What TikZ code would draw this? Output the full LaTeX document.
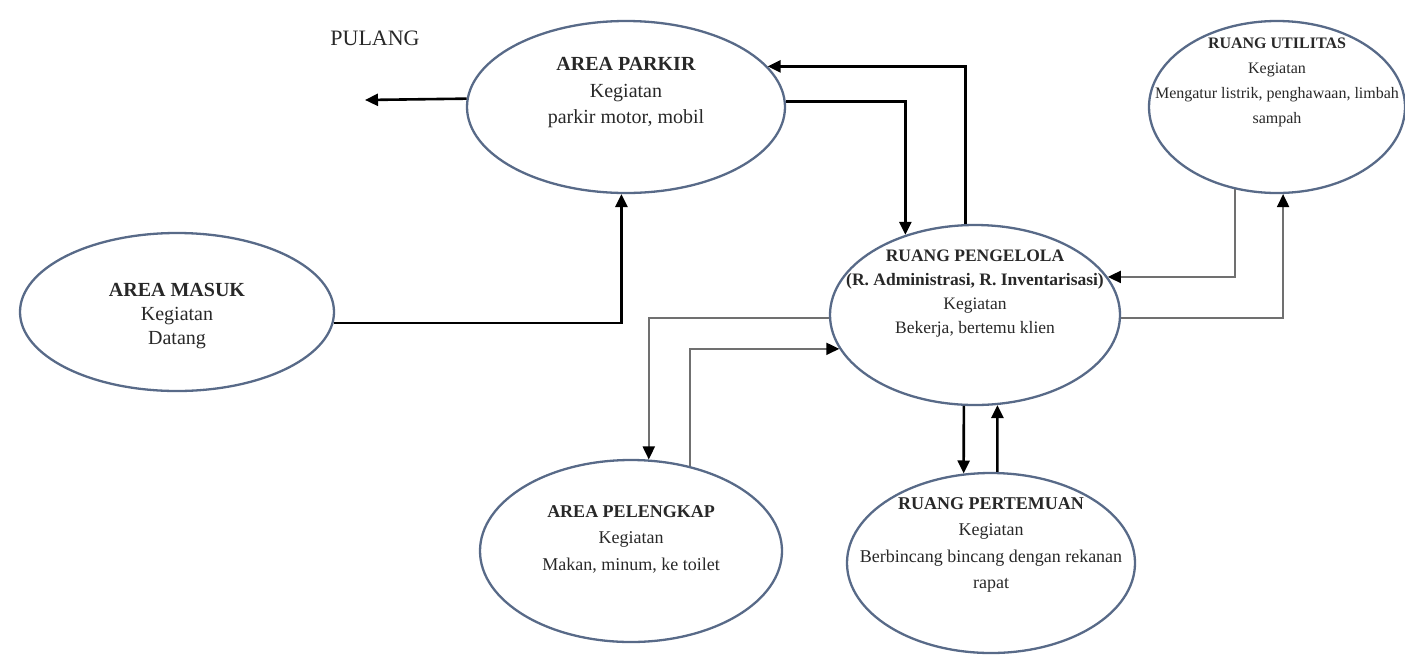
\documentclass[tikz,border=0pt]{standalone}
\usepackage{fontspec}
\IfFontExistsTF{LiberationSerif-Regular.ttf}
  {\setmainfont{LiberationSerif}[Extension=.ttf, UprightFont=*-Regular, BoldFont=*-Bold, ItalicFont=*-Italic, BoldItalicFont=*-BoldItalic]}
  {\setmainfont{Liberation Serif}}
\usetikzlibrary{shapes.geometric,arrows.meta}

\definecolor{rim}{RGB}{88,106,136}
\definecolor{wire}{RGB}{112,112,112}
\definecolor{ink}{RGB}{40,40,40}

\tikzset{
  zone/.style={ellipse, draw=rim, line width=2.3pt, inner sep=0pt},
  caption/.style={align=center, inner sep=0pt, text=ink},
  boldflow/.style={line width=2.6pt, black, -{Triangle[width=12pt,length=13pt]}},
  thinflow/.style={line width=1.9pt, wire, -{Triangle[width=12pt,length=13pt,color=black]}},
}
\newcommand{\fs}[2]{\fontsize{#1}{#2}\selectfont}

\begin{document}
\begin{tikzpicture}[x=1pt,y=-1pt]
\path[use as bounding box] (0,0) rectangle (1405,654);

% activity areas
\node[zone, minimum width=318pt, minimum height=172pt] (parkir)    at (626,107) {};
\node[zone, minimum width=256pt, minimum height=172pt] (utilitas)  at (1277,107) {};
\node[zone, minimum width=290pt, minimum height=180pt] (pengelola) at (975,315) {};
\node[zone, minimum width=314pt, minimum height=158pt] (masuk)     at (177,312) {};
\node[zone, minimum width=302pt, minimum height=182pt] (pelengkap) at (631,551) {};
\node[zone, minimum width=288pt, minimum height=180pt] (pertemuan) at (991,563) {};

% area descriptions
\node[caption, font=\fs{20}{26.5}] (parkirT) at (626,93)
  {\textbf{AREA PARKIR}\\Kegiatan\\parkir motor, mobil};
\node[caption, font=\fs{16}{25}] (utilitasT) at (1277,82)
  {\textbf{RUANG UTILITAS}\\Kegiatan\\Mengatur listrik, penghawaan, limbah\\sampah};
\node[caption, font=\fs{17.5}{24}] (pengelolaT) at (975,294)
  {\textbf{RUANG PENGELOLA}\\\textbf{(R. Administrasi, R. Inventarisasi)}\\Kegiatan\\Bekerja, bertemu klien};
\node[caption, font=\fs{20}{24}] (masukT) at (177,316)
  {\textbf{AREA MASUK}\\Kegiatan\\Datang};
\node[caption, font=\fs{18}{26.5}] (pelengkapT) at (631,539)
  {\textbf{AREA PELENGKAP}\\Kegiatan\\Makan, minum, ke toilet};
\node[caption, font=\fs{18}{26.5}] (pertemuanT) at (991,545)
  {\textbf{RUANG PERTEMUAN}\\Kegiatan\\Berbincang bincang dengan rekanan\\rapat};

\node[caption, font=\fs{22}{26}] (pulang) at (375,38) {PULANG};
\coordinate (keluar) at (365,100);

% circulation
\draw[boldflow] (parkir.177.5) -- (keluar);
\draw[boldflow] (masuk.-4) -| (parkir.-93);
\draw[boldflow] (parkir.2.5) -| (pengelola.131.6);
\draw[boldflow] (pengelola.96.4) |- (parkir.16.8);
\draw[thinflow] (utilitas.-117.3) |- (pengelola.16.6);
\draw[thinflow] (pengelola.-1.2) -| (utilitas.-86);
\draw[thinflow] (pengelola.181.2) -| (pelengkap.79.4);
\draw[thinflow] (pelengkap.55.4) |- (pengelola.194.7);
\draw[boldflow] (pengelola.-97.6) -- (pertemuan.107.6);
\draw[boldflow] (pertemuan.86.8) -- (pengelola.-76.7);
\end{tikzpicture}
\end{document}
